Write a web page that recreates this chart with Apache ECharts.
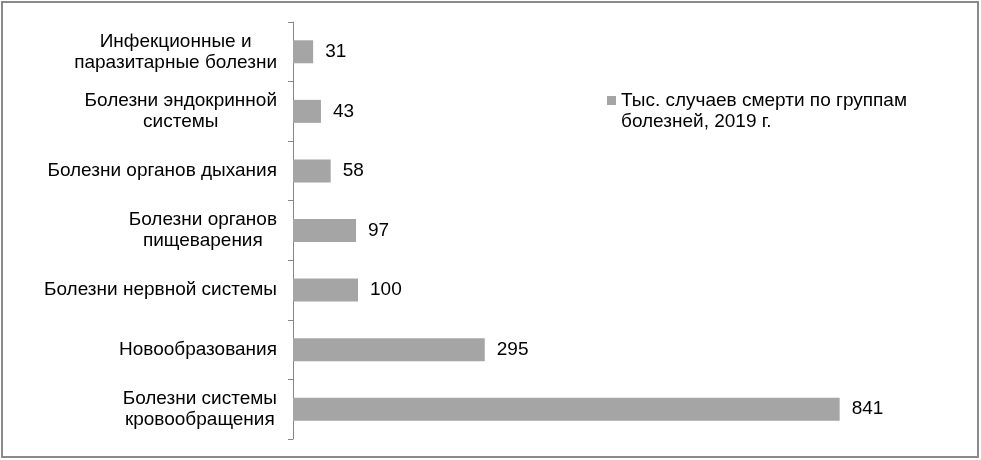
<!DOCTYPE html>
<html>
<head>
<meta charset="utf-8">
<script src="https://cdn.jsdelivr.net/npm/echarts@6/dist/echarts.min.js"></script>
<style>
html,body{margin:0;padding:0;background:#fff;}
#c{width:981px;height:460px;}
</style>
</head>
<body>
<div id="c"></div>
<script>
var categories = [
  "Инфекционные и\nпаразитарные болезни",
  "Болезни эндокринной\nсистемы",
  "Болезни органов дыхания",
  "Болезни органов\nпищеварения",
  "Болезни нервной системы",
  "Новообразования",
  "Болезни системы\nкровообращения"
];
var values = [31, 43, 58, 97, 100, 295, 841];
var seriesName = "Тыс. случаев смерти по группам\nболезней, 2019 г.";

var FONT = "'Liberation Sans', Arial, sans-serif";
var FS = 19;
var chart = echarts.init(document.getElementById('c'));
chart.setOption({
  animation: false,
  backgroundColor: '#ffffff',
  textStyle: {fontFamily: FONT},
  graphic: [{
    type: 'rect', z: -1,
    shape: {x: 2, y: 2, width: 976, height: 455},
    style: {fill: 'none', stroke: '#8a8a8a', lineWidth: 2}
  }],
  grid: {left: 293, right: 103, top: 22, bottom: 21, containLabel: false},
  legend: {
    left: 602, top: 85,
    itemWidth: 9, itemHeight: 42, itemGap: 0,
    icon: 'path://M0,0L0.01,0M0,6L9,6L9,15L0,15ZM9,42L8.99,42',
    textStyle: {fontFamily: FONT, fontSize: FS, color: '#000', lineHeight: 21},
    data: [seriesName]
  },
  xAxis: {
    type: 'value', min: 0, max: 900, show: false
  },
  yAxis: {
    type: 'category', inverse: true, data: categories,
    axisLine: {show: true, lineStyle: {color: '#868686', width: 1}},
    axisTick: {show: true, length: 5, lineStyle: {color: '#868686'}},
    axisLabel: {
      margin: 16, color: '#000', fontFamily: FONT, fontSize: FS, lineHeight: 21,
      formatter: function (v) {
        return v.split('\n').map(function (s) { return '{c|' + s + '}'; }).join('\n');
      },
      rich: {c: {align: 'center', fontFamily: FONT, fontSize: FS, lineHeight: 21, color: '#000'}}
    },
    splitLine: {show: false}
  },
  series: [{
    name: seriesName,
    type: 'bar',
    data: values,
    barWidth: 23,
    itemStyle: {color: '#a5a5a5'},
    label: {show: true, position: 'right', distance: 12, color: '#000', fontFamily: FONT, fontSize: FS}
  }]
});
</script>
</body>
</html>
